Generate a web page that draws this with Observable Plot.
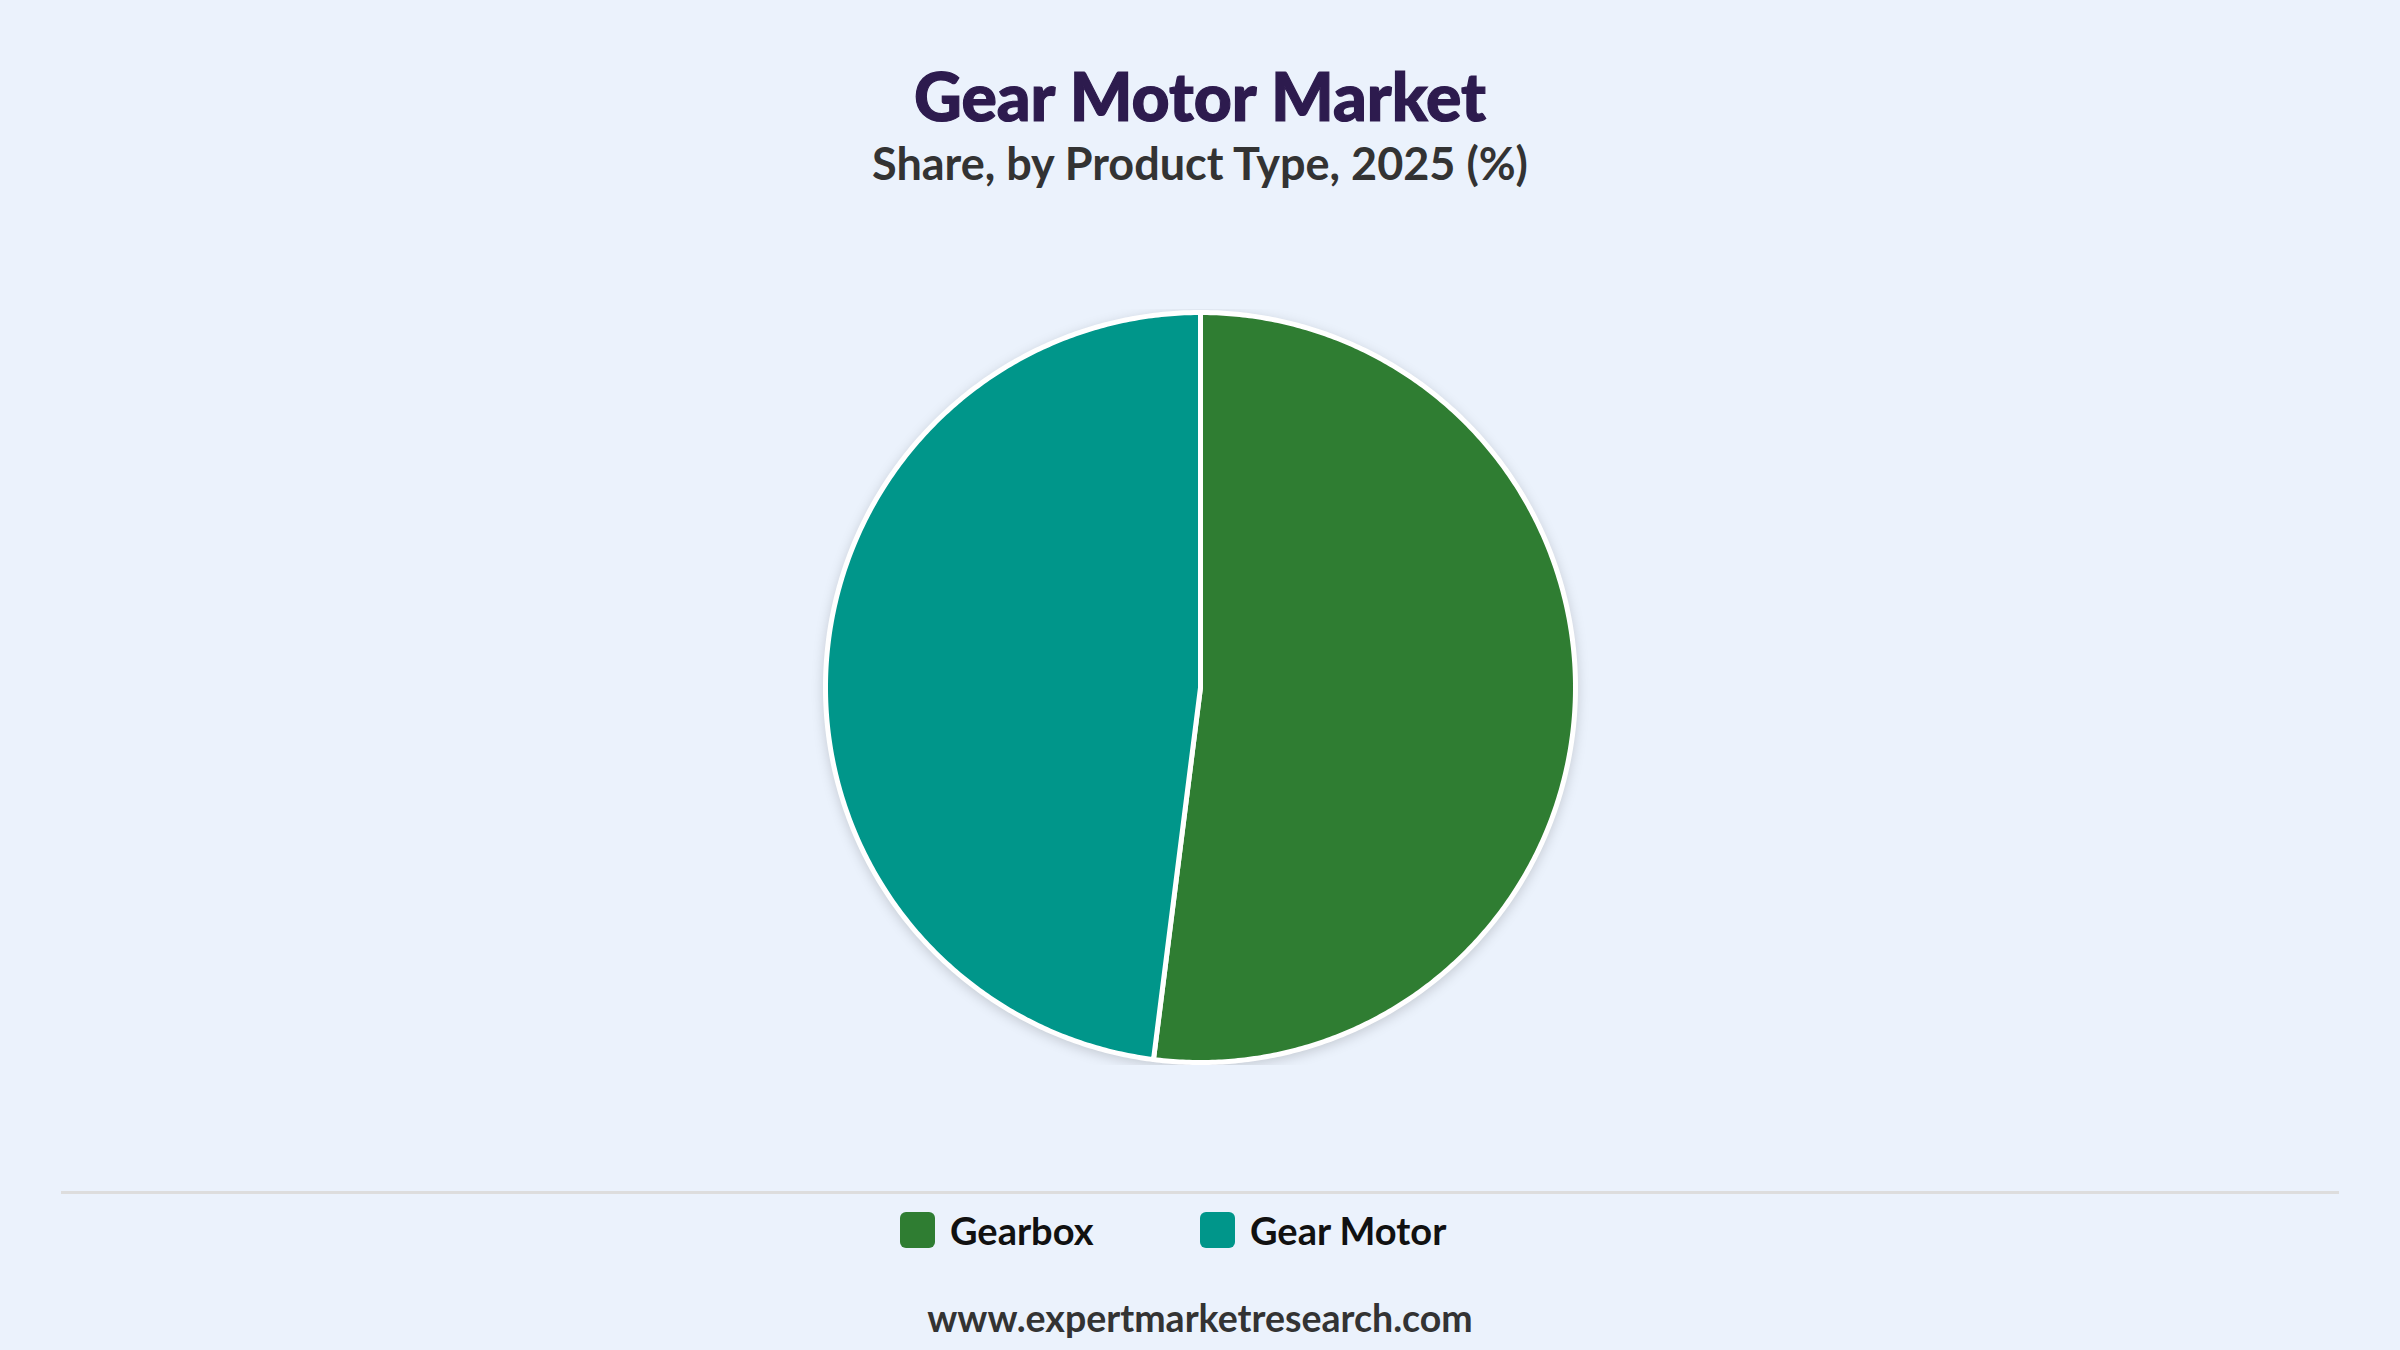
<!DOCTYPE html>
<html>
<head>
<meta charset="utf-8">
<script src="https://cdn.jsdelivr.net/npm/d3@7"></script>
<script src="https://cdn.jsdelivr.net/npm/@observablehq/plot@0.6"></script>
<style>
  html, body { margin: 0; padding: 0; }
  body { width: 2400px; height: 1350px; background: #EBF2FC; position: relative; overflow: hidden; font-family: Lato, "Noto Sans", sans-serif; }
  .abs { position: absolute; left: 0; width: 2400px; text-align: center; line-height: 1; white-space: nowrap; }
  #title { top: 63px; font-size: 66px; font-weight: 900; color: #2D1B4E; -webkit-text-stroke: 1.2px #2D1B4E; }
  #subtitle { top: 141px; font-size: 45px; font-weight: 700; color: #333333; }
  #chart { position: absolute; left: 0; top: 309px; }
  #chart svg [aria-label="geo"] { filter: drop-shadow(0px 3px 6px rgba(0,0,0,0.16)); }
  #divider { position: absolute; left: 61px; width: 2278px; top: 1191px; height: 3px; background: #DDDDDD; }
  #legend { position: absolute; left: 900px; top: 1212px; display: flex; }
  .item { width: 300px; display: flex; align-items: center; height: 36px; }
  .sw { width: 35px; height: 36px; border-radius: 6px; margin-right: 15px; flex: none; }
  .lab { font-size: 38px; font-weight: 700; color: #111111; line-height: 1; }
  #footer { top: 1299px; font-size: 37.5px; font-weight: 700; color: #333333; }
</style>
</head>
<body>
<div id="title" class="abs">Gear Motor Market</div>
<div id="subtitle" class="abs">Share, by Product Type, 2025 (%)</div>
<div id="chart"></div>
<div id="divider"></div>
<div id="legend"></div>
<div id="footer" class="abs">www.expertmarketresearch.com</div>
<script>
const categories = ["Gearbox", "Gear Motor"];
const shares = [52, 48];
const colors = ["#2F7D32", "#00968A"];

const rows = categories.map((c, i) => ({type: c, value: shares[i]}));
const arcs = d3.pie().value(d => d.value).sort(null)(rows);

function ringFor(a0, a1) {
  const pts = [[0, 0]];
  const n = Math.max(8, Math.ceil((a1 - a0) / (Math.PI / 360)));
  for (let k = 0; k <= n; k++) {
    const a = a0 + (a1 - a0) * k / n;
    pts.push([Math.sin(a), -Math.cos(a)]);
  }
  pts.push([0, 0]);
  return pts;
}

const features = arcs.map(a => ({
  type: "Feature",
  properties: {type: a.data.type, value: a.data.value},
  geometry: {type: "Polygon", coordinates: [ringFor(a.startAngle, a.endAngle)]}
}));

const circle = {type: "Polygon", coordinates: [ringFor(0, 2 * Math.PI).slice(1, -1).concat([[0, -1]])]};

const plot = Plot.plot({
  width: 2400,
  height: 756,
  margin: 0,
  projection: {type: "identity", domain: circle, inset: 3},
  color: {domain: categories, range: colors},
  marks: [
    Plot.geo(features, {fill: d => d.properties.type, stroke: "white", strokeWidth: 5, strokeLinejoin: "round"})
  ]
});
plot.style.background = "transparent";
document.getElementById("chart").appendChild(plot);

const legend = document.getElementById("legend");
categories.forEach((c, i) => {
  const item = document.createElement("div");
  item.className = "item";
  const sw = document.createElement("div");
  sw.className = "sw";
  sw.style.background = plot.scale("color").apply(c);
  const lab = document.createElement("div");
  lab.className = "lab";
  lab.textContent = c;
  item.appendChild(sw);
  item.appendChild(lab);
  legend.appendChild(item);
});
</script>
</body>
</html>
